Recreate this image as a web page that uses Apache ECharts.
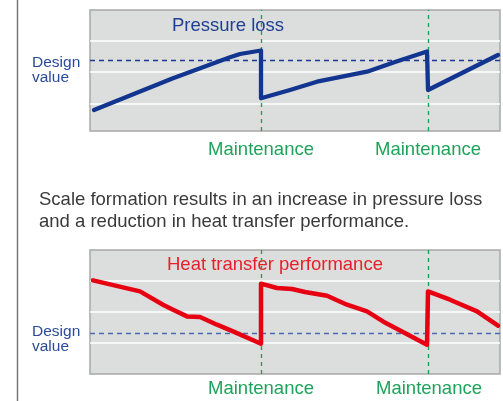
<!DOCTYPE html>
<html>
<head>
<meta charset="utf-8">
<script src="https://cdn.jsdelivr.net/npm/echarts@6/dist/echarts.min.js"></script>
<style>
  html, body { margin: 0; padding: 0; background: #fff; }
  #chart { width: 503px; height: 401px; }
</style>
</head>
<body>
<div id="chart"></div>
<script>
// time runs 0..410 across each panel, levels are measured up from the panel floor
const maintenanceTimes = [171, 338]

const pressureLoss = [
  [4, 21], [83, 52.7], [140, 73.7], [150, 77], [171, 80.5],
  [171, 32.7], [200, 41], [227, 49.3], [277, 59.3], [305, 69], [337, 79.5],
  [338, 41], [408, 76],
]
const pressureGridLevels = [27.7, 59, 90.3]
const pressureDesign = 70.3

const heatTransfer = [
  [3, 93.6], [50, 82.6], [73, 69.3], [83, 64.3], [97, 57.6], [110, 57],
  [127, 49.3], [143, 42.6], [171, 30.3],
  [171, 90.3], [187, 86], [202, 85], [215, 82], [237, 78.3], [257, 69.3],
  [277, 62.6], [293, 52.6], [337, 29.3],
  [338, 82.6], [360, 74.3], [387, 62.6], [408, 48.3],
]
const heatGridLevels = [31, 62, 93]
const heatDesign = 40.3

const FONT = '"Liberation Sans", Arial, Helvetica, sans-serif'
const BLUE = '#12358f'
const RED = '#e60012'
const GREEN = '#1ea35a'

const chart = echarts.init(document.getElementById('chart'), null, { renderer: 'canvas' })

function guides(gridLevels, design, designColor) {
  return [
    ...gridLevels.map((v) => ({ yAxis: v, lineStyle: { color: '#ffffff', width: 1.5, type: 'solid' } })),
    { yAxis: design, lineStyle: { color: designColor, width: 1.4, type: [5, 4] } },
    ...maintenanceTimes.map((t) => ({ xAxis: t, lineStyle: { color: GREEN, width: 1.4, type: [4, 4] } })),
  ]
}

function text(x, y, str, size, color, align) {
  return {
    type: 'text', x, y,
    style: { text: str, font: size + 'px ' + FONT, fill: color, textAlign: align || 'left', textVerticalAlign: 'middle' },
  }
}

chart.setOption({
  animation: false,
  grid: [
    { left: 90, right: 3, top: 10, height: 121, show: true, backgroundColor: '#dcdddd', borderColor: '#a8a8a8', borderWidth: 1.5 },
    { left: 90, right: 3, top: 250, height: 124, show: true, backgroundColor: '#dcdddd', borderColor: '#a8a8a8', borderWidth: 1.5 },
  ],
  xAxis: [
    { type: 'value', gridIndex: 0, min: 0, max: 410, show: false },
    { type: 'value', gridIndex: 1, min: 0, max: 410, show: false },
  ],
  yAxis: [
    { type: 'value', gridIndex: 0, min: 0, max: 121, show: false },
    { type: 'value', gridIndex: 1, min: 0, max: 124, show: false },
  ],
  series: [
    {
      type: 'line', xAxisIndex: 0, yAxisIndex: 0, data: [], z: 1,
      markLine: { silent: true, symbol: ['none', 'none'], label: { show: false }, data: guides(pressureGridLevels, pressureDesign, '#1d3a94') },
    },
    {
      type: 'line', xAxisIndex: 1, yAxisIndex: 1, data: [], z: 1,
      markLine: { silent: true, symbol: ['none', 'none'], label: { show: false }, data: guides(heatGridLevels, heatDesign, '#4a6ab4') },
    },
    {
      name: 'Pressure loss', type: 'line', xAxisIndex: 0, yAxisIndex: 0, z: 5,
      showSymbol: false, lineStyle: { color: BLUE, width: 4.3, join: 'round', cap: 'round' },
      data: pressureLoss,
    },
    {
      name: 'Heat transfer performance', type: 'line', xAxisIndex: 1, yAxisIndex: 1, z: 5,
      showSymbol: false, lineStyle: { color: RED, width: 4.5, join: 'round', cap: 'round' },
      data: heatTransfer,
    },
  ],
  graphic: [
    { type: 'line', shape: { x1: 17.5, y1: 0, x2: 17.5, y2: 401 }, style: { stroke: '#7a7a7a', lineWidth: 1.5 } },
    text(172, 26.3, 'Pressure loss', 18.5, '#1f3f95'),
    text(32, 63.2, 'Design', 15.5, '#2a4a9a'),
    text(32, 77.6, 'value', 15.5, '#2a4a9a'),
    text(261, 149.5, 'Maintenance', 18.5, GREEN, 'center'),
    text(428, 149.5, 'Maintenance', 18.5, GREEN, 'center'),
    text(39, 199.5, 'Scale formation results in an increase in pressure loss', 18.5, '#3a3a3a'),
    text(39, 222.1, 'and a reduction in heat transfer performance.', 18.5, '#3a3a3a'),
    text(167, 264.6, 'Heat transfer performance', 18.5, '#e8202a'),
    text(32, 331.6, 'Design', 15.5, '#2a4a9a'),
    text(32, 346.6, 'value', 15.5, '#2a4a9a'),
    text(261, 389, 'Maintenance', 18.5, GREEN, 'center'),
    text(429, 389, 'Maintenance', 18.5, GREEN, 'center'),
  ],
})
</script>
</body>
</html>
